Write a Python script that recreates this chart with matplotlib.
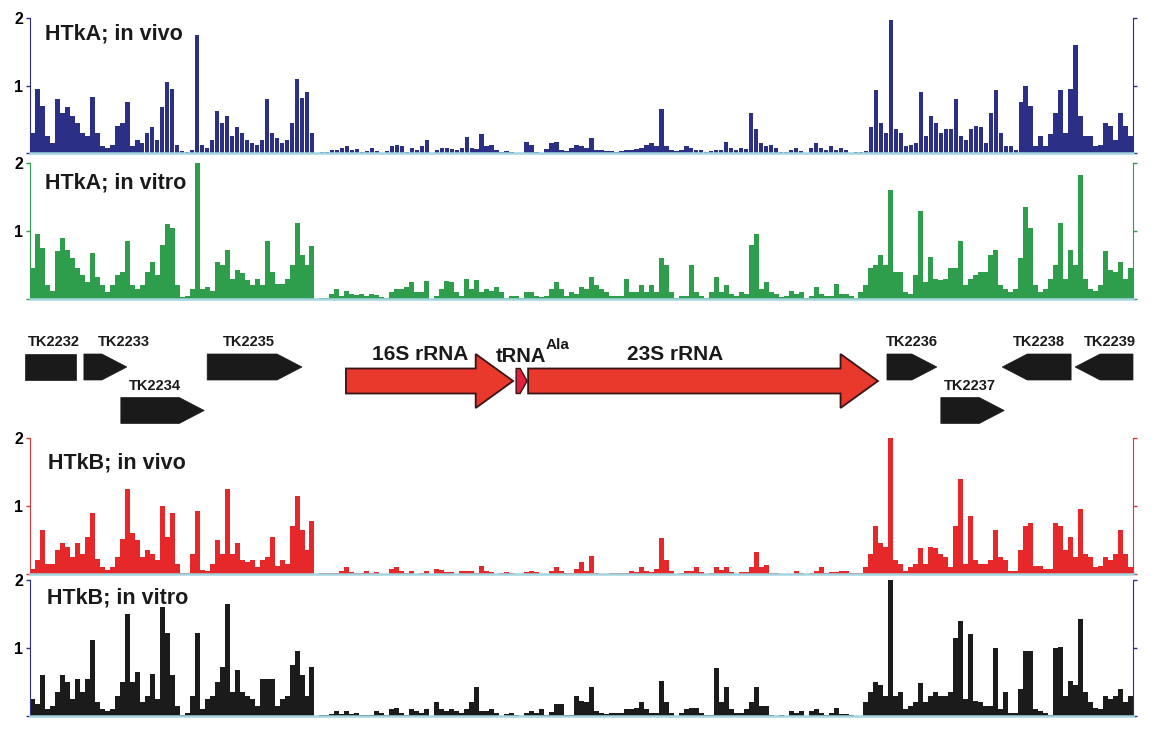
import matplotlib
matplotlib.use("Agg")
import matplotlib.pyplot as plt
from matplotlib.patches import Polygon

plt.rcParams['font.family'] = ['Liberation Sans', 'DejaVu Sans']
plt.rcParams['font.weight'] = 'bold'

# coverage per bin (221 bins along the locus)
htka_vivo = [
    0.3, 0.95, 0.7, 0.25, 0.15, 0.8, 0.6, 0.68, 0.55, 0.45,
    0.3, 0.25, 0.83, 0.3, 0.1, 0.08, 0.12, 0.4, 0.45, 0.75,
    0.1, 0.2, 0.15, 0.3, 0.38, 0.2, 0.68, 1.05, 0.95, 0.12,
    0.03, 0.02, 0.05, 1.75, 0.12, 0.08, 0.2, 0.62, 0.45, 0.55,
    0.25, 0.38, 0.3, 0.2, 0.15, 0.12, 0.2, 0.8, 0.3, 0.22,
    0.15, 0.2, 0.45, 1.1, 0.82, 0.9, 0.3,
    0.0, 0.01, 0.02, 0.04, 0.05, 0.08, 0.1, 0.05, 0.06, 0.02, 0.03, 0.07, 0.03, 0.0, 0.03, 0.1, 0.12,
    0.1, 0.02, 0.07, 0.05, 0.1, 0.2, 0.0, 0.05, 0.07, 0.08,
    0.06, 0.05, 0.08, 0.23, 0.08, 0.06, 0.28, 0.1, 0.12, 0.04,
    0.02, 0.03, 0.02, 0.0, 0.0, 0.17, 0.12, 0.02, 0.0, 0.06,
    0.15, 0.17, 0.05, 0.03, 0.08, 0.12, 0.1, 0.08, 0.22, 0.05,
    0.04, 0.03, 0.03, 0.02, 0.03, 0.05, 0.04, 0.06, 0.08, 0.12,
    0.15, 0.1, 0.65, 0.1, 0.05, 0.03, 0.05, 0.1, 0.08, 0.05,
    0.04, 0.02, 0.03, 0.04, 0.05, 0.17, 0.07, 0.05, 0.08, 0.06,
    0.6, 0.35, 0.15, 0.1, 0.12, 0.08,
    0.02, 0.02, 0.05, 0.08, 0.03, 0.0, 0.08, 0.15, 0.08, 0.05, 0.1, 0.05, 0.08, 0.04, 0.0, 0.02, 0.02,
    0.03, 0.38, 0.93, 0.45, 0.3, 1.97, 0.35, 0.3, 0.1, 0.12,
    0.15, 0.9, 0.25, 0.55, 0.45, 0.3, 0.35, 0.35, 0.8, 0.25,
    0.2, 0.35, 0.4, 0.38, 0.15, 0.6, 0.93, 0.3, 0.1, 0.1,
    0.05, 0.75, 1.0, 0.7, 0.1, 0.25, 0.1, 0.28, 0.6, 0.93,
    0.3, 0.95, 1.6, 0.55, 0.25, 0.25, 0.1, 0.12, 0.45, 0.4,
    0.2, 0.6, 0.4, 0.25,
]

htka_vitro = [
    0.45, 0.95, 0.75, 0.2, 0.12, 0.7, 0.9, 0.72, 0.6, 0.45,
    0.35, 0.25, 0.68, 0.32, 0.2, 0.1, 0.2, 0.35, 0.4, 0.85,
    0.2, 0.15, 0.2, 0.4, 0.55, 0.35, 0.8, 1.1, 1.05, 0.2,
    0.03, 0.05, 0.15, 2.0, 0.15, 0.18, 0.12, 0.55, 0.5, 0.72,
    0.3, 0.42, 0.38, 0.28, 0.2, 0.3, 0.2, 0.85, 0.4, 0.22,
    0.22, 0.3, 0.5, 1.12, 0.65, 0.5, 0.78,
    0.0, 0.01, 0.02, 0.08, 0.15, 0.05, 0.12, 0.08, 0.06, 0.08, 0.05, 0.07, 0.06, 0.03, 0.02, 0.1, 0.15,
    0.15, 0.18, 0.25, 0.1, 0.1, 0.27, 0.0, 0.05, 0.15, 0.27,
    0.25, 0.1, 0.05, 0.3, 0.15, 0.28, 0.1, 0.15, 0.12, 0.18,
    0.1, 0.02, 0.05, 0.05, 0.02, 0.1, 0.1, 0.05, 0.03, 0.05,
    0.15, 0.25, 0.15, 0.05, 0.1, 0.08, 0.18, 0.15, 0.32, 0.2,
    0.15, 0.1, 0.04, 0.04, 0.04, 0.3, 0.1, 0.1, 0.2, 0.1,
    0.2, 0.1, 0.6, 0.5, 0.1, 0.02, 0.05, 0.05, 0.5, 0.1,
    0.05, 0.02, 0.1, 0.33, 0.1, 0.2, 0.08, 0.05, 0.1, 0.08,
    0.8, 0.96, 0.15, 0.25, 0.1, 0.08,
    0.03, 0.05, 0.12, 0.08, 0.1, 0.02, 0.05, 0.17, 0.08, 0.05, 0.05, 0.22, 0.08, 0.08, 0.05, 0.02, 0.1,
    0.2, 0.45, 0.5, 0.65, 0.5, 1.6, 0.4, 0.4, 0.1, 0.08,
    0.35, 1.3, 0.25, 0.62, 0.3, 0.28, 0.3, 0.45, 0.45, 0.85,
    0.2, 0.3, 0.35, 0.4, 0.4, 0.65, 0.72, 0.2, 0.15, 0.1,
    0.15, 0.6, 1.35, 1.05, 0.2, 0.1, 0.15, 0.3, 0.5, 1.12,
    0.3, 0.72, 0.5, 1.82, 0.3, 0.15, 0.12, 0.2, 0.7, 0.42,
    0.4, 0.55, 0.3, 0.45,
]

htkb_vivo = [
    0.08, 0.2, 0.65, 0.15, 0.15, 0.35, 0.45, 0.4, 0.25, 0.45,
    0.3, 0.55, 0.9, 0.22, 0.1, 0.06, 0.1, 0.25, 0.52, 1.25,
    0.6, 0.5, 0.25, 0.35, 0.3, 0.2, 1.0, 0.55, 0.9, 0.15,
    0.02, 0.02, 0.3, 0.92, 0.06, 0.05, 0.15, 0.5, 0.3, 1.25,
    0.3, 0.45, 0.2, 0.18, 0.2, 0.1, 0.2, 0.25, 0.55, 0.12,
    0.2, 0.15, 0.7, 1.15, 0.65, 0.35, 0.78,
    0.0, 0.01, 0.01, 0.02, 0.02, 0.05, 0.1, 0.03, 0.02, 0.02, 0.04, 0.02, 0.03, 0.0, 0.0, 0.08, 0.1,
    0.05, 0.02, 0.05, 0.0, 0.02, 0.05, 0.0, 0.07, 0.06, 0.03,
    0.03, 0.0, 0.05, 0.05, 0.04, 0.02, 0.12, 0.04, 0.03, 0.0,
    0.02, 0.03, 0.02, 0.0, 0.0, 0.03, 0.04, 0.03, 0.0, 0.0,
    0.05, 0.1, 0.04, 0.02, 0.01, 0.07, 0.17, 0.05, 0.26, 0.01,
    0.0, 0.0, 0.01, 0.01, 0.01, 0.02, 0.05, 0.03, 0.1, 0.05,
    0.03, 0.08, 0.53, 0.2, 0.05, 0.0, 0.02, 0.05, 0.05, 0.1,
    0.03, 0.0, 0.02, 0.1, 0.06, 0.1, 0.03, 0.0, 0.03, 0.03,
    0.1, 0.32, 0.1, 0.13, 0.01, 0.01,
    0.0, 0.0, 0.0, 0.05, 0.01, 0.0, 0.02, 0.05, 0.1, 0.01, 0.03, 0.03, 0.04, 0.04, 0.01, 0.01, 0.02,
    0.1, 0.3, 0.7, 0.45, 0.4, 2.0, 0.2, 0.15, 0.05, 0.1,
    0.15, 0.38, 0.15, 0.4, 0.38, 0.3, 0.25, 0.1, 0.7, 1.4,
    0.15, 0.85, 0.2, 0.15, 0.15, 0.2, 0.65, 0.25, 0.2, 0.05,
    0.05, 0.35, 0.7, 0.75, 0.12, 0.12, 0.08, 0.08, 0.75, 0.7,
    0.35, 0.55, 0.25, 0.95, 0.3, 0.25, 0.1, 0.12, 0.25, 0.2,
    0.3, 0.65, 0.3, 0.1,
]

htkb_vitro = [
    0.25, 0.18, 0.6, 0.1, 0.15, 0.35, 0.6, 0.5, 0.25, 0.55,
    0.35, 0.55, 1.12, 0.2, 0.1, 0.08, 0.1, 0.3, 0.5, 1.5,
    0.5, 0.65, 0.2, 0.3, 0.62, 0.25, 1.6, 1.22, 0.6, 0.15,
    0.02, 0.05, 0.3, 1.22, 0.1, 0.25, 0.3, 0.5, 0.72, 1.65,
    0.35, 0.68, 0.35, 0.3, 0.25, 0.15, 0.55, 0.55, 0.55, 0.15,
    0.25, 0.3, 0.75, 0.95, 0.6, 0.3, 0.72,
    0.0, 0.01, 0.02, 0.03, 0.07, 0.03, 0.08, 0.03, 0.05, 0.02, 0.01, 0.02, 0.07, 0.05, 0.02, 0.1, 0.12,
    0.05, 0.02, 0.1, 0.08, 0.05, 0.1, 0.0, 0.2, 0.1, 0.08,
    0.1, 0.07, 0.05, 0.1, 0.2, 0.42, 0.08, 0.08, 0.1, 0.04,
    0.0, 0.03, 0.05, 0.02, 0.0, 0.05, 0.08, 0.05, 0.1, 0.01,
    0.06, 0.17, 0.17, 0.02, 0.02, 0.3, 0.22, 0.2, 0.42, 0.08,
    0.05, 0.03, 0.04, 0.05, 0.04, 0.1, 0.1, 0.12, 0.2, 0.1,
    0.05, 0.05, 0.52, 0.2, 0.05, 0.0, 0.05, 0.1, 0.12, 0.12,
    0.04, 0.02, 0.01, 0.7, 0.2, 0.42, 0.1, 0.05, 0.05, 0.1,
    0.2, 0.42, 0.15, 0.15, 0.01, 0.0,
    0.01, 0.0, 0.07, 0.05, 0.08, 0.0, 0.08, 0.1, 0.05, 0.02, 0.05, 0.12, 0.03, 0.03, 0.02, 0.0, 0.0,
    0.2, 0.35, 0.5, 0.45, 0.3, 2.0, 0.3, 0.35, 0.1, 0.15,
    0.2, 0.48, 0.2, 0.3, 0.35, 0.3, 0.3, 0.35, 1.15, 1.4,
    0.25, 1.2, 0.22, 0.2, 0.15, 0.15, 1.0, 0.1, 0.35, 0.05,
    0.05, 0.4, 0.95, 0.95, 0.1, 0.08, 0.05, 0.02, 1.0, 1.02,
    0.3, 0.52, 0.45, 1.42, 0.35, 0.2, 0.12, 0.1, 0.3, 0.25,
    0.3, 0.4, 0.2, 0.3,
]

track_names = ['HTkA; in vivo', 'HTkA; in vitro', 'HTkB; in vivo', 'HTkB; in vitro']
track_data = [htka_vivo, htka_vitro, htkb_vivo, htkb_vitro]
bar_colors = ['#2c2f86', '#2f9e4c', '#e6282b', '#1b1b1b']
spine_colors = ['#2c2f86', '#2f9e4c', '#d8383b', '#2c2f86']
bar_widths = [0.88, 1.0, 1.0, 1.0]

# genes, in the same bin units as the tracks
gene_names = ['TK2232', 'TK2233', 'TK2234', 'TK2235', 'TK2236', 'TK2237', 'TK2238', 'TK2239']
gene_start = [-1.5, 10.3, 17.7, 35.0, 171.2, 182.0, 194.3, 208.9]
gene_end = [8.7, 18.9, 34.4, 54.0, 181.2, 194.7, 208.1, 220.5]
gene_strand = [0, 1, 1, 1, 1, 1, -1, -1]
gene_row = [0, 0, 1, 0, 0, 1, 0, 0]
gene_label_x = [4.3, 18.3, 24.6, 43.4, 176.2, 187.8, 201.7, 215.9]

rrna_names = ['16S rRNA', '23S rRNA']
rrna_start = [62.8, 99.3]
rrna_end = [96.3, 169.4]
rrna_label_x = [77.6, 128.7]
trna_start = 96.9
trna_end = 99.1

nbins = len(htka_vivo)
bins = list(range(nbins))

fig = plt.figure(figsize=(11.59, 7.29), dpi=100)
W, H = 1159.0, 729.0
left = 30 / W
width = 1103 / W
# (top pixel, bottom pixel) of each track
track_px = [(18, 153), (163, 299), (438, 574), (580, 716)]
label_px = [(45, 34), (45, 183), (48, 463), (47, 598)]

for i in range(4):
    top, bot = track_px[i]
    ax = fig.add_axes([left, 1 - bot / H, width, (bot - top) / H])
    ax.bar(bins, track_data[i], width=bar_widths[i], color=bar_colors[i], linewidth=0)
    ax.set_xlim(-0.5, nbins - 0.5)
    ax.set_ylim(0, 2)
    ax.set_xticks([])
    ax.set_yticks([0, 1, 2])
    ax.set_yticklabels(['', '1', '2'])
    ax.tick_params(axis='y', direction='out', length=3, width=1, pad=2,
                   color=spine_colors[i], labelsize=11.5, right=True, labelright=False)
    ax.spines['top'].set_visible(False)
    ax.spines['left'].set_color(spine_colors[i])
    ax.spines['right'].set_color(spine_colors[i])
    ax.spines['bottom'].set_color('#a3d6df')
    ax.spines['bottom'].set_linewidth(1.8)
    ax.patch.set_alpha(0)
    lx, ly = label_px[i]
    ax.text((lx - 30) / 1103, (bot - ly) / (bot - top), track_names[i],
            transform=ax.transAxes, ha='left', va='center', fontsize=15.5,
            fontweight='bold', color='#1a1a1a')


def arrow_points(start, end, yc, half, head, strand, head_half):
    if strand == 1:
        neck = end - head
        return [(start, yc - half), (neck, yc - half), (neck, yc - head_half), (end, yc),
                (neck, yc + head_half), (neck, yc + half), (start, yc + half)]
    if strand == -1:
        neck = start + head
        return [(end, yc - half), (neck, yc - half), (neck, yc - head_half), (start, yc),
                (neck, yc + head_half), (neck, yc + half), (end, yc + half)]
    return [(start, yc - half), (end, yc - half), (end, yc + half), (start, yc + half)]


# gene map, y in pixel rows of the figure
gax = fig.add_axes([left, 1 - 432 / H, width, 127 / H])
gax.set_xlim(-0.5, nbins - 0.5)
gax.set_ylim(432, 305)
gax.axis('off')

row_y = [367, 410.5]
row_label_y = [342, 386]
for k in range(len(gene_names)):
    pts = arrow_points(gene_start[k], gene_end[k], row_y[gene_row[k]], 13, 5.0,
                       gene_strand[k], 13)
    gax.add_patch(Polygon(pts, closed=True, facecolor='#1a1a1a', edgecolor='#1a1a1a',
                          linewidth=0.5, clip_on=False))
    gax.text(gene_label_x[k], row_label_y[gene_row[k]], gene_names[k], ha='center',
             va='center', fontsize=10.5, fontweight='bold', color='#1a1a1a', clip_on=False)

for k in range(len(rrna_names)):
    pts = arrow_points(rrna_start[k], rrna_end[k], 381, 12.5, 7.5, 1, 27)
    gax.add_patch(Polygon(pts, closed=True, facecolor='#e8392c', edgecolor='#3a1414',
                          linewidth=1.3, joinstyle='miter'))
    gax.text(rrna_label_x[k], 355, rrna_names[k], ha='center', va='center',
             fontsize=15, fontweight='bold', color='#1a1a1a')

pts = arrow_points(trna_start, trna_end, 381, 12.5, 1.4, 1, 12.5)
gax.add_patch(Polygon(pts, closed=True, facecolor='#e0203c', edgecolor='#3a1414',
                      linewidth=1.0))
gax.text(102.9, 357, 'tRNA', ha='right', va='center', fontsize=14.5,
         fontweight='bold', color='#1a1a1a')
gax.text(102.9, 345, 'Ala', ha='left', va='center', fontsize=11,
         fontweight='bold', color='#1a1a1a')

fig.savefig('out.png', dpi=100)
